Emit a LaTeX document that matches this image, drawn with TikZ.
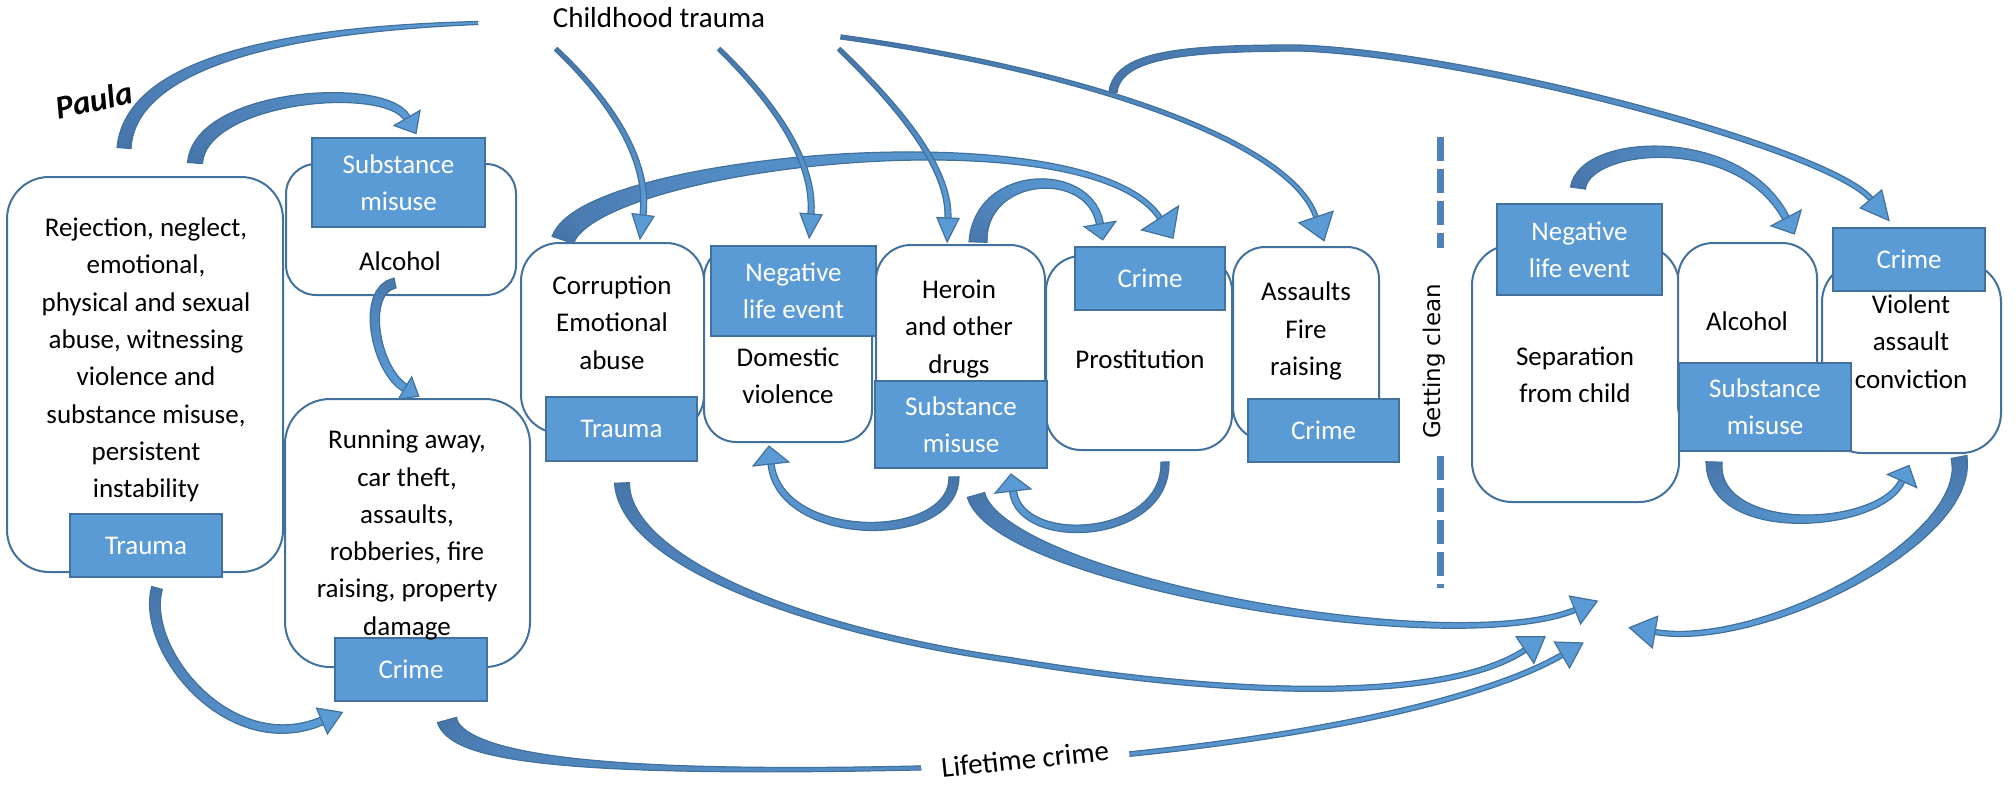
\documentclass[tikz,border=0pt]{standalone}
\usepackage{fontspec}
\setmainfont{Carlito}
\newfontfamily\cleanfont{DejaVu Sans}
\usetikzlibrary{calc}

\definecolor{accentfill}{HTML}{5B9BD5}
\definecolor{accentedge}{HTML}{41719C}
\definecolor{bandlight}{HTML}{5B9BD5}
\definecolor{banddeep}{HTML}{4673A8}
\definecolor{dashblue}{HTML}{4F81BD}

\tikzset{
  txt/.style={align=center, inner sep=0pt, font=\fontsize{27pt}{37.3pt}\selectfont},
  rbox/.style={draw=accentedge, line width=2pt, fill=white, inner sep=0pt},
  fbox/.style={draw=accentedge, line width=2pt, fill=accentfill, text=white,
    align=center, inner sep=0pt, font=\fontsize{27pt}{37.3pt}\selectfont},
  headfill/.style={fill=bandlight, draw=accentedge, line width=1.2pt, line join=miter},
  bandrim/.style={accentedge, line width=1.2pt, line join=round, line cap=round},
  gapdash/.style={dashblue, line width=7pt, dash pattern=on 24pt off 8pt}
}

% taper profile exponent (1 = linear)
\def\bandpow{1}

% One tapered cubic band segment, built from its two offset edges.
% #1 = 1 to close the start with a rim line, #2..#5 = Bezier points,
% #6/#7 = start/end half-width, #8/#9 = share of the light colour at start/end
\newcommand\bandseg[9]{%
  \path #2 coordinate (bpA) #3 coordinate (bpB) #4 coordinate (bpC) #5 coordinate (bpD);
  \pgfpointanchor{bpA}{center}\pgfgetlastxy\bpAx\bpAy
  \pgfpointanchor{bpB}{center}\pgfgetlastxy\bpBx\bpBy
  \pgfpointanchor{bpC}{center}\pgfgetlastxy\bpCx\bpCy
  \pgfpointanchor{bpD}{center}\pgfgetlastxy\bpDx\bpDy
  \pgfmathsetmacro\bpLen{veclen(\bpBx-\bpAx,\bpBy-\bpAy)+veclen(\bpCx-\bpBx,\bpCy-\bpBy)+veclen(\bpDx-\bpCx,\bpDy-\bpCy)}%
  \pgfmathtruncatemacro\bpN{max(14,\bpLen/9)}%
  \foreach \bpK in {0,...,\bpN}{%
    \pgfmathsetmacro\bpT{\bpK/\bpN}%
    \pgfmathsetmacro\bpU{1-\bpT}%
    \pgfmathsetmacro\bpX{\bpU*\bpU*\bpU*(\bpAx)+3*\bpT*\bpU*\bpU*(\bpBx)+3*\bpT*\bpT*\bpU*(\bpCx)+\bpT*\bpT*\bpT*(\bpDx)}%
    \pgfmathsetmacro\bpY{\bpU*\bpU*\bpU*(\bpAy)+3*\bpT*\bpU*\bpU*(\bpBy)+3*\bpT*\bpT*\bpU*(\bpCy)+\bpT*\bpT*\bpT*(\bpDy)}%
    \pgfmathsetmacro\bpGx{\bpU*\bpU*(\bpBx-\bpAx)+2*\bpU*\bpT*(\bpCx-\bpBx)+\bpT*\bpT*(\bpDx-\bpCx)}%
    \pgfmathsetmacro\bpGy{\bpU*\bpU*(\bpBy-\bpAy)+2*\bpU*\bpT*(\bpCy-\bpBy)+\bpT*\bpT*(\bpDy-\bpCy)}%
    \pgfmathsetmacro\bpGl{veclen(\bpGx,\bpGy)}%
    \pgfmathsetmacro\bpW{\bpU^\bandpow}%
    \pgfmathsetmacro\bpR{#7+(#6-#7)*\bpW}%
    \pgfmathsetmacro\bpLx{\bpX-\bpR*\bpGy/\bpGl}%
    \pgfmathsetmacro\bpLy{\bpY+\bpR*\bpGx/\bpGl}%
    \pgfmathsetmacro\bpRx{\bpX+\bpR*\bpGy/\bpGl}%
    \pgfmathsetmacro\bpRy{\bpY-\bpR*\bpGx/\bpGl}%
    \pgfmathsetmacro\bpP{#8+(#9-#8)*(1-\bpW)}%
    \expandafter\xdef\csname bpl\bpK\endcsname{(\bpLx pt,\bpLy pt)}%
    \expandafter\xdef\csname bpr\bpK\endcsname{(\bpRx pt,\bpRy pt)}%
    \expandafter\xdef\csname bpc\bpK\endcsname{\bpP}%
  }%
  % body: overlapping strips shaded from deep to light
  \foreach \bpK in {1,...,\bpN}{%
    \pgfmathtruncatemacro\bpJ{max(0,\bpK-2)}%
    \edef\bpPc{\csname bpc\bpK\endcsname}%
    \colorlet{bpcol}{bandlight!\bpPc!banddeep}%
    \edef\bpCmd{\noexpand\fill[bpcol] \csname bpl\bpJ\endcsname -- \csname bpl\bpK\endcsname -- \csname bpr\bpK\endcsname -- \csname bpr\bpJ\endcsname -- cycle;}%
    \bpCmd
  }%
  % rims along both edges
  \xdef\bpLeftPath{\csname bpl0\endcsname}%
  \xdef\bpRightPath{\csname bpr0\endcsname}%
  \foreach \bpK in {1,...,\bpN}{%
    \xdef\bpLeftPath{\bpLeftPath -- \csname bpl\bpK\endcsname}%
    \xdef\bpRightPath{\bpRightPath -- \csname bpr\bpK\endcsname}%
  }%
  \edef\bpCmd{\noexpand\draw[bandrim] \bpLeftPath; \noexpand\draw[bandrim] \bpRightPath;}%
  \bpCmd
  \ifnum#1=1
    \edef\bpCmd{\noexpand\draw[bandrim] \csname bpl0\endcsname -- \csname bpr0\endcsname;}%
    \bpCmd
  \fi
}
% a single tapered cubic band
\newcommand\curveband[6]{\bandseg{1}{#1}{#2}{#3}{#4}{#5}{#6}{0}{100}}
% arrow head: last control point, end point, length, half-width
\newcommand\bandhead[4]{%
  \filldraw[headfill] ($#2!#4pt!90:#1$) -- ($#2!-#3pt!#1$) -- ($#2!#4pt!-90:#1$) -- cycle;}

\begin{document}
\begin{tikzpicture}[x=1pt,y=-1pt]
\useasboundingbox (0,0) rectangle (2016,787);

% rounded frames
\node[rbox, rounded corners=42pt, minimum width=276pt, minimum height=395pt] (rej) at (145,374.5) {};
\node[rbox, rounded corners=30pt, minimum width=230pt, minimum height=131pt] (alcA) at (401,229.5) {};
\node[rbox, rounded corners=45pt, minimum width=245pt, minimum height=268pt] (run) at (407.5,533) {};
\node[rbox, rounded corners=38pt, minimum width=183pt, minimum height=190pt] (corr) at (612.5,338) {};
\node[rbox, rounded corners=32pt, minimum width=168pt, minimum height=196pt] (dv) at (788,344) {};
\node[rbox, rounded corners=35pt, minimum width=169pt, minimum height=195pt] (her) at (960.5,342.5) {};
\node[rbox, rounded corners=35pt, minimum width=186pt, minimum height=194pt] (pro) at (1139,353) {};
\node[rbox, rounded corners=32pt, minimum width=146pt, minimum height=193pt] (ass) at (1306,343.5) {};
\node[rbox, rounded corners=40pt, minimum width=207pt, minimum height=257pt] (sep) at (1575.5,373.5) {};
\node[rbox, rounded corners=35pt, minimum width=139pt, minimum height=197pt] (alcB) at (1747.5,341.5) {};
\node[rbox, rounded corners=40pt, minimum width=179pt, minimum height=191pt] (vio) at (1911.5,357.5) {};

% category tags
\node[fbox, minimum width=173pt, minimum height=89pt] (smA) at (398.5,182.5) {Substance\\misuse};
\node[fbox, minimum width=152pt, minimum height=63pt] (trA) at (146,545.5) {Trauma};
\node[fbox, minimum width=152pt, minimum height=63pt] (crA) at (411,669.5) {Crime};
\node[fbox, minimum width=151pt, minimum height=64pt] (trB) at (621.5,429) {Trauma};
\node[fbox, minimum width=165pt, minimum height=90pt] (nleA) at (793.5,291) {Negative\\life event};
\node[fbox, minimum width=172pt, minimum height=87pt] (smB) at (961,424.5) {Substance\\misuse};
\node[fbox, minimum width=150pt, minimum height=63pt] (crB) at (1150,278.5) {Crime};
\node[fbox, minimum width=151pt, minimum height=63pt] (crC) at (1323.5,430.5) {Crime};
\node[fbox, minimum width=165pt, minimum height=91pt] (nleB) at (1579.5,249.5) {Negative\\life event};
\node[fbox, minimum width=172pt, minimum height=88pt] (smC) at (1765,407) {Substance\\misuse};
\node[fbox, minimum width=152pt, minimum height=63pt] (crD) at (1909,259.5) {Crime};

% box texts
\node[txt] (tRej) at (146,360) {Rejection, neglect,\\emotional,\\physical and sexual\\abuse, witnessing\\violence and\\substance misuse,\\persistent\\instability};
\node[txt] (tAlcA) at (400,261) {Alcohol};
\node[txt] (tRun) at (407,535) {Running away,\\car theft,\\assaults,\\robberies, fire\\raising, property\\damage};
\node[txt] (tCorr) at (612,322.5) {Corruption\\Emotional\\abuse};
\node[txt] (tDv) at (788,375.5) {Domestic\\violence};
\node[txt] (tHer) at (959,329) {Heroin\\and other\\drugs};
\node[txt] (tPro) at (1140,359) {Prostitution};
\node[txt] (tAss) at (1306,331) {Assaults\\Fire\\raising};
\node[txt] (tSep) at (1575,374.5) {Separation\\from child};
\node[txt] (tAlcB) at (1747,321) {Alcohol};
\node[txt] (tVio) at (1911,341.5) {Violent\\assault\\conviction};

% free labels
\node[inner sep=0pt, font=\fontsize{29pt}{34pt}\selectfont] (child) at (659,18) {Childhood trauma};
\node[inner sep=0pt, rotate=12, font=\fontsize{33pt}{40pt}\selectfont\bfseries\itshape] (paula) at (94,100) {Paula};
\node[inner sep=0pt, rotate=90, font=\cleanfont\fontsize{23pt}{28pt}\selectfont] (clean) at (1434,361.5) {Getting clean};

% divider
\coordinate (dTopA) at (1440,137); \coordinate (dTopB) at (1440,248);
\coordinate (dBotA) at (1440,456); \coordinate (dBotB) at (1440,588);
\draw[gapdash] (dTopA) -- (dTopB);
\draw[gapdash] (dBotA) -- (dBotB);

% connector end points
\coordinate (rejTopL) at (124,148);  \coordinate (childL) at (478,23);
\coordinate (rejTopR) at (195,163);  \coordinate (smAin) at (407,118);
\coordinate (alcAout) at (395,283);  \coordinate (runIn) at (405,388);
\coordinate (trAout) at (157,588);   \coordinate (crAin) at (322,721);
\coordinate (corrOut) at (563,240);  \coordinate (crBinL) at (1160,218);
\coordinate (herOut) at (978,242);   \coordinate (crBinR) at (1100,224);
\coordinate (trBout) at (622,483);   \coordinate (midB) at (1010,660);  \coordinate (goalB) at (1525,650);
\coordinate (smBout) at (976,495);   \coordinate (goalA) at (1575,610);
\coordinate (crAout) at (447,720);   \coordinate (lifeMid) at (918,768); \coordinate (goalC) at (1562,655);
\coordinate (proOut) at (1165,462);  \coordinate (smBin) at (1013,491);
\coordinate (smBdown) at (954,477);  \coordinate (dvIn) at (771,464);
\coordinate (smCout) at (1714,462);  \coordinate (vioIn) at (1902,481);
\coordinate (vioOut) at (1959,457);  \coordinate (goalD) at (1655,632);
\coordinate (nleBout) at (1578,188); \coordinate (alcBin) at (1786,218);
\coordinate (childA) at (556,49);    \coordinate (corrIn) at (643,215);
\coordinate (childB) at (719,49);    \coordinate (nleAin) at (811,214);
\coordinate (childC) at (839,49);    \coordinate (herIn) at (948,218);
\coordinate (childD) at (841,37);    \coordinate (assIn) at (1316,217);
\coordinate (branch) at (1113,92);   \coordinate (topArc) at (1300,48); \coordinate (crDin) at (1871,199);

% curved connectors
\curveband{(rejTopL)}{(130,70)}{(260,30)}{(childL)}{7}{1.5}

\curveband{(rejTopR)}{(200,95)}{(385,80)}{(smAin)}{7.5}{3.5}
\bandhead{(385,80)}{(smAin)}{18}{15}

\curveband{(alcAout)}{(360,290)}{(375,370)}{(runIn)}{5}{4}
\bandhead{(375,370)}{(runIn)}{16}{13}

\curveband{(trAout)}{(140,650)}{(230,760)}{(crAin)}{5.5}{4}
\bandhead{(230,760)}{(crAin)}{22}{14}

\def\bandpow{2}
\curveband{(corrOut)}{(590,160)}{(1090,110)}{(crBinL)}{11.5}{2.5}
\bandhead{(1090,110)}{(crBinL)}{24}{22}

\curveband{(herOut)}{(980,170)}{(1090,165)}{(crBinR)}{9}{3.5}
\bandhead{(1090,165)}{(crBinR)}{16}{16}

\bandseg{1}{(trBout)}{(625,560)}{(800,630)}{(midB)}{7.5}{2.5}{0}{60}
\bandseg{0}{(midB)}{(1250,700)}{(1450,700)}{(goalB)}{2.5}{2.5}{60}{100}
\bandhead{(1450,700)}{(goalB)}{24}{16}

\curveband{(smBout)}{(1000,580)}{(1450,660)}{(goalA)}{9}{2.5}
\bandhead{(1450,660)}{(goalA)}{24}{15}

\bandseg{1}{(crAout)}{(458,760)}{(600,775)}{(lifeMid)}{10}{2}{0}{60}
\bandseg{0}{(lifeMid)}{(1150,762)}{(1450,720)}{(goalC)}{2}{2.5}{60}{100}
\bandhead{(1450,720)}{(goalC)}{24}{15}

\curveband{(smCout)}{(1712,540)}{(1880,530)}{(vioIn)}{8}{3}
\bandhead{(1880,530)}{(vioIn)}{17}{16}

\curveband{(vioOut)}{(1975,540)}{(1760,650)}{(goalD)}{8}{2.5}
\bandhead{(1760,650)}{(goalD)}{26}{16}
\def\bandpow{1}

\curveband{(proOut)}{(1168,540)}{(1020,550)}{(smBin)}{4}{3.5}
\bandhead{(1020,550)}{(smBin)}{17}{18}

\curveband{(smBdown)}{(955,545)}{(780,545)}{(dvIn)}{5}{3}
\bandhead{(780,545)}{(dvIn)}{18}{18}

\curveband{(nleBout)}{(1585,140)}{(1740,130)}{(alcBin)}{7.5}{3.5}
\bandhead{(1740,130)}{(alcBin)}{18}{17}

\bandseg{1}{(branch)}{(1118,55)}{(1180,48)}{(topArc)}{4}{3}{0}{30}
\bandseg{0}{(topArc)}{(1480,55)}{(1830,150)}{(crDin)}{3}{2.5}{30}{100}
\bandhead{(1830,150)}{(crDin)}{28}{14}

\curveband{(childD)}{(1080,70)}{(1290,140)}{(assIn)}{2}{2.2}
\bandhead{(1290,140)}{(assIn)}{25}{18}

\curveband{(childA)}{(610,100)}{(650,160)}{(corrIn)}{2}{3}
\bandhead{(650,160)}{(corrIn)}{24}{11}
\curveband{(childB)}{(772,100)}{(815,160)}{(nleAin)}{2}{3}
\bandhead{(815,160)}{(nleAin)}{24}{11}
\curveband{(childC)}{(892,100)}{(950,165)}{(herIn)}{2}{3}
\bandhead{(950,165)}{(herIn)}{24}{11}

% label sitting in a gap of its connector
\node[fill=white, inner xsep=20pt, inner ysep=3pt, rotate=6, font=\fontsize{29pt}{34pt}\selectfont] (life) at (1025,759) {Lifetime crime};
\end{tikzpicture}
\end{document}
